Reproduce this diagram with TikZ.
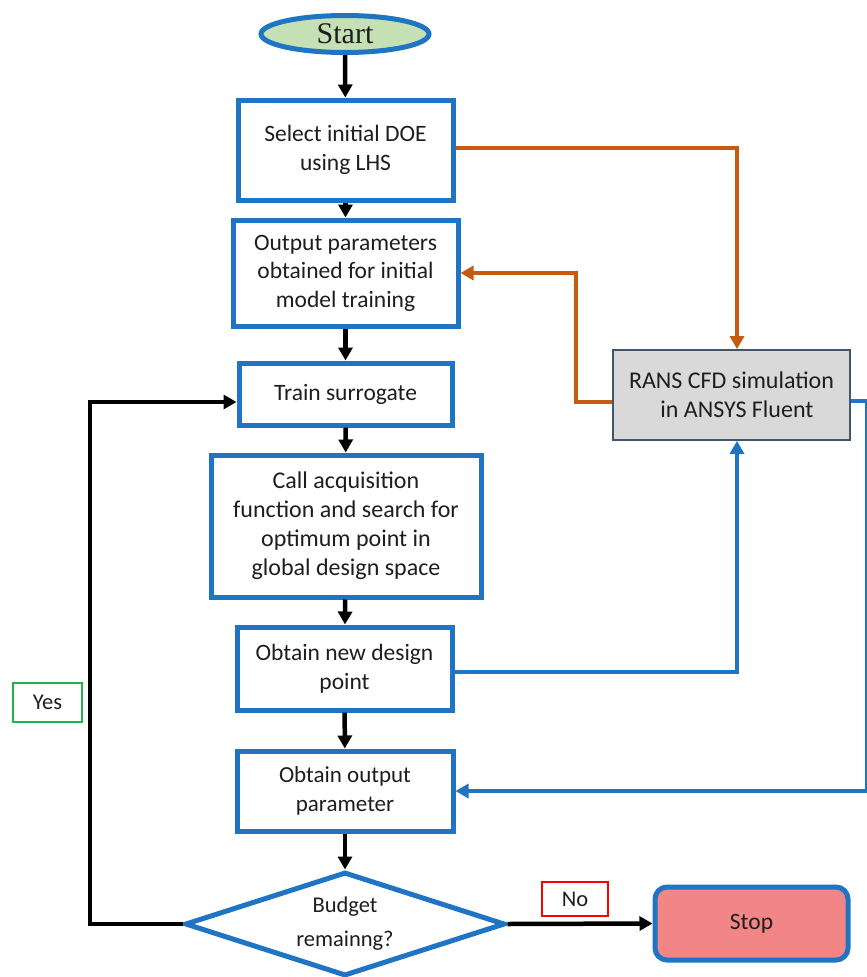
\documentclass[tikz,border=0pt]{standalone}
\usepackage{fontspec}
\setmainfont{Carlito}
\newfontfamily\startfont{Liberation Serif}
\usetikzlibrary{arrows.meta,shapes.geometric,calc}
\definecolor{boxblue}{HTML}{1F74C4}
\definecolor{lineorange}{HTML}{C55A11}
\definecolor{startgreen}{HTML}{C5E0B4}
\definecolor{stopred}{HTML}{F28585}
\definecolor{ransgray}{HTML}{D9D9D9}
\definecolor{ransborder}{HTML}{44546A}
\definecolor{yesgreen}{HTML}{22B24C}
\definecolor{txt}{HTML}{1E1E1E}
\tikzset{
  procbox/.style={draw=boxblue, line width=5pt, fill=white, align=center, inner sep=0pt,
    text=txt, font=\fontsize{23.5}{28.5}\selectfont},
  flowarrow/.style={line width=4.5pt, -{Triangle[length=13pt,width=14pt]}},
  orangearrow/.style={draw=lineorange, line width=3.4pt, -{Triangle[length=13pt,width=14pt]}, color=lineorange},
  bluearrow/.style={draw=boxblue, line width=3.6pt, -{Triangle[length=13pt,width=14pt]}, color=boxblue},
  labelbox/.style={line width=2.2pt, fill=white, inner sep=0pt, text=txt, font=\fontsize{22.5}{26}\selectfont},
}
\begin{document}
\begin{tikzpicture}[x=1pt,y=-1pt]
\useasboundingbox (0,0) rectangle (867,977);
% nodes
\node[ellipse, draw=boxblue, line width=5pt, fill=startgreen, minimum width=168pt, minimum height=37pt, inner sep=0pt,
  font=\startfont\fontsize{30}{32}\selectfont, text=txt] (start) at (345,34) {Start};
\node[procbox, minimum width=215pt, minimum height=100pt] (b1) at (345.5,150) {Select initial DOE\\using LHS};
\node[procbox, minimum width=225pt, minimum height=106pt] (b2) at (345.5,273) {Output parameters\\obtained for initial\\model training};
\node[procbox, minimum width=213pt, minimum height=62pt] (b3) at (345.5,394) {Train surrogate};
\node[procbox, minimum width=270pt, minimum height=142pt, font=\fontsize{24}{29}\selectfont] (b4) at (346,526) {Call acquisition\\function and search for\\optimum point in\\global design space};
\node[procbox, minimum width=215pt, minimum height=83pt] (b5) at (344.5,668.5) {Obtain new design\\point};
\node[procbox, minimum width=216pt, minimum height=80pt, font=\fontsize{23}{29}\selectfont] (b6) at (345,791) {Obtain output\\parameter};
\node[diamond, draw=boxblue, line width=5pt, fill=white, minimum width=320pt, minimum height=104pt, inner sep=0pt,
  aspect=3, align=center, text=txt, font=\fontsize{22.5}{34}\selectfont] (dia) at (345,924) {Budget\\remainng?};
\node[draw=ransborder, line width=1.8pt, fill=ransgray, minimum width=237pt, minimum height=90pt, inner sep=0pt,
  align=center, text=txt, font=\fontsize{24}{29}\selectfont] (rans) at (731.5,395) {RANS CFD simulation\\\ \ in ANSYS Fluent};
\node[draw=boxblue, line width=5pt, fill=stopred, rounded corners=12pt, minimum width=193pt, minimum height=73pt,
  inner sep=0pt, text=txt, font=\fontsize{23.5}{26}\selectfont] (stop) at (751.5,923.5) {Stop};
\node[labelbox, draw=red, minimum width=66pt, minimum height=34pt] (no) at (575,899) {No};
\node[labelbox, draw=yesgreen, minimum width=69pt, minimum height=39pt] (yes) at (47.5,702.5) {Yes};
% helper coordinates
\coordinate (ycorner) at (90,924);
\coordinate (rtop) at (866.5,401);
\coordinate (rbot) at (866.5,791);
% main flow
\draw[flowarrow] (start) -- (b1);
\draw[flowarrow] (b1) -- (b2);
\draw[flowarrow] (b2) -- (b3);
\draw[flowarrow] (b3) -- (b4);
\draw[flowarrow] (b4) -- (b5);
\draw[flowarrow] (b5) -- (b6);
\draw[flowarrow] (b6) -- (dia);
\draw[flowarrow] (dia.east) -- (stop.west);
\draw[flowarrow] (dia.west) -- (ycorner) |- ([yshift=-8pt]b3.west);
% orange
\draw[orangearrow] ([yshift=2pt]b1.east) -| ([xshift=5.5pt]rans.north);
\draw[orangearrow] ([yshift=-7pt]rans.west) -- ++(-36,0) |- (b2.east);
% blue
\draw[bluearrow] ([yshift=-3.5pt]b5.east) -| ([xshift=5.5pt]rans.south);
\draw[bluearrow] ([yshift=-6pt]rans.east) -- (rtop) -- (rbot) -- (b6.east);
\end{tikzpicture}
\end{document}
